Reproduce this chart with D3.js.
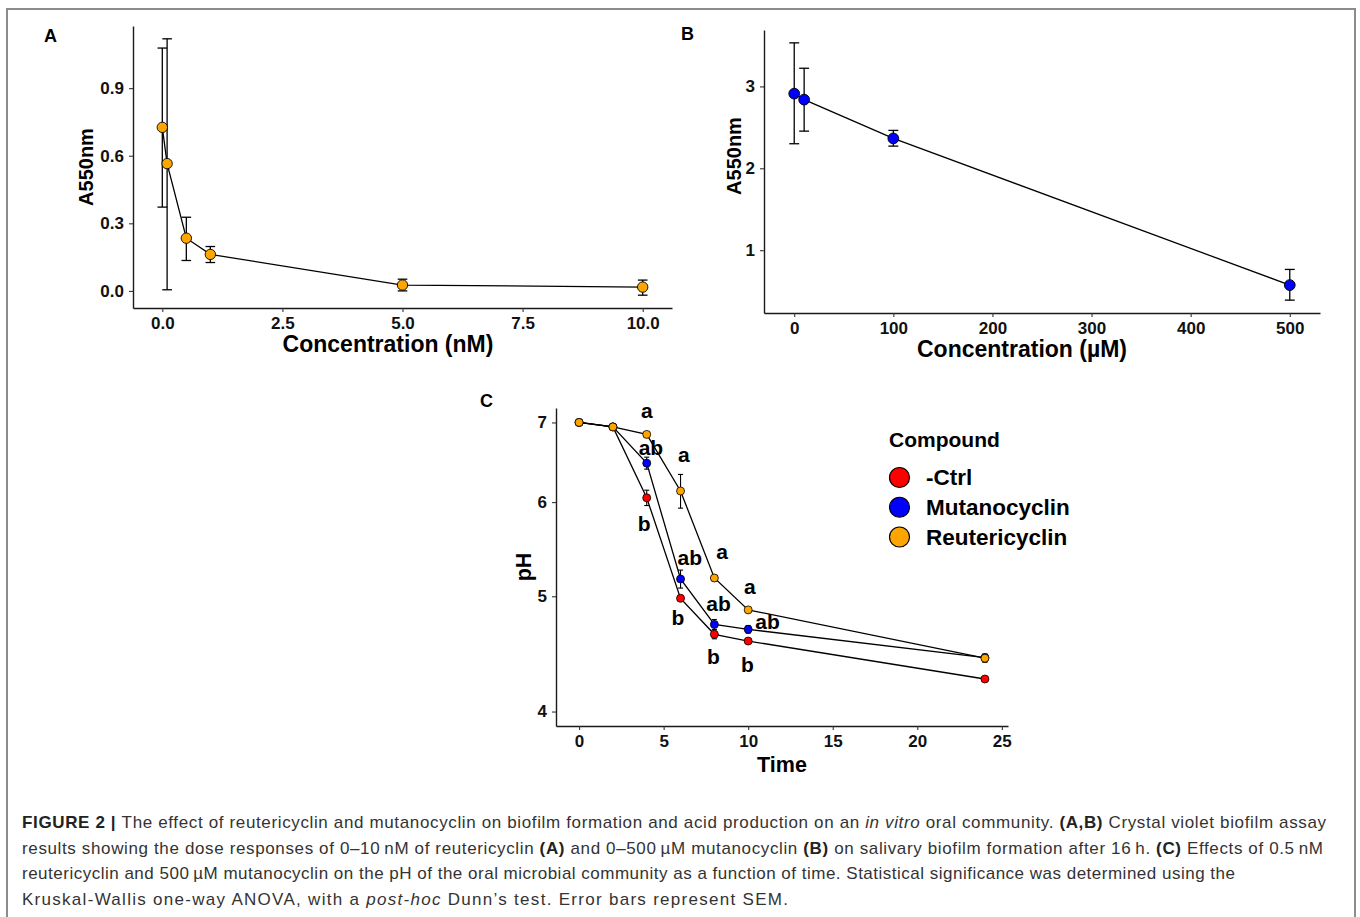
<!DOCTYPE html>
<html>
<head>
<meta charset="utf-8">
<script src="https://cdnjs.cloudflare.com/ajax/libs/d3/7.8.5/d3.min.js"></script>
<style>
body { margin: 0; background: #fff; }
text { font-family: "Liberation Sans", Arial, Helvetica, sans-serif; }
</style>
</head>
<body>
<svg id="fig" width="1360" height="917"></svg>
<script>

// ---- data ----

// panel A: reutericyclin dose response
var concA = [0, 0.1, 0.5, 1, 5, 10];
var meanA = [0.726, 0.565, 0.234, 0.162, 0.026, 0.017];
var lowA  = [0.372, 0.005, 0.135, 0.126, 0.0, -0.019];
var highA = [1.078, 1.119, 0.327, 0.197, 0.052, 0.048];
var xTicksA = [0, 2.5, 5, 7.5, 10];
var yTicksA = [0, 0.3, 0.6, 0.9];

// panel B: mutanocyclin dose response
var concB = [0, 10, 100, 500];
var meanB = [2.912, 2.839, 2.365, 0.574];
var lowB  = [2.300, 2.454, 2.271, 0.390];
var highB = [3.532, 3.222, 2.463, 0.765];
var xTicksB = [0, 100, 200, 300, 400, 500];
var yTicksB = [1, 2, 3];

// panel C: pH over time
var time = [0, 2, 4, 6, 8, 10, 24];
var compounds = ["-Ctrl", "Mutanocyclin", "Reutericyclin"];
var phCtrl = [7.0, 6.94, 6.05, 4.98, 4.645, 4.585, 4.26];
var seCtrl = [0, 0.01, 0.09, 0.03, 0.04, 0.02, 0.02];
var phMuta = [7.0, 6.94, 6.47, 5.17, 4.735, 4.69, 4.44];
var seMuta = [0, 0.01, 0.075, 0.09, 0.045, 0.035, 0.03];
var phReut = [7.0, 6.94, 6.84, 6.13, 5.18, 4.87, 4.435];
var seReut = [0, 0.01, 0.02, 0.2, 0.03, 0.02, 0.035];
var xTicksC = [0, 5, 10, 15, 20, 25];
var yTicksC = [4, 5, 6, 7];

// significance letters (time, pH)
var sigText = ["a", "ab", "b", "a", "ab", "b", "a", "ab", "b", "a", "ab", "b"];
var sigTime = [4, 4.25, 3.85, 6.2, 6.55, 5.85, 8.45, 8.25, 7.95, 10.1, 11.15, 9.95];
var sigPH   = [7.14, 6.67, 5.76, 6.55, 5.39, 4.80, 5.43, 4.93, 4.45, 5.08, 4.76, 4.38];

var colors = {"-Ctrl": "#ff0000", "Mutanocyclin": "#0000ff", "Reutericyclin": "#ffa500"};

// ---- helpers ----

var svg = d3.select("#fig");

// frame around the figure
svg.append("rect")
    .attr("x", 7).attr("y", 9)
    .attr("width", 1348).attr("height", 940)
    .attr("fill", "none")
    .attr("stroke", "#8c8c8c")
    .attr("stroke-width", 2);

// ggplot style 5% expansion
function pad(lo, hi) {
    var d = (hi - lo) * 0.05;
    return [lo - d, hi + d];
}

function drawAxes(x, y, xTicks, yTicks, xFmt, yFmt) {
    var xr = x.range(), yr = y.range();
    var ax = svg.append("g")
        .attr("transform", "translate(0," + yr[0] + ")")
        .call(d3.axisBottom(x).tickValues(xTicks).tickFormat(xFmt)
            .tickSize(4).tickSizeOuter(0).tickPadding(5));
    var ay = svg.append("g")
        .attr("transform", "translate(" + xr[0] + ",0)")
        .call(d3.axisLeft(y).tickValues(yTicks).tickFormat(yFmt)
            .tickSize(4).tickSizeOuter(0).tickPadding(5));
    [ax, ay].forEach(function (a) {
        a.select(".domain").attr("stroke", "#1a1a1a").attr("stroke-width", 1.4);
        a.selectAll(".tick line").attr("stroke", "#333").attr("stroke-width", 1.1);
        a.selectAll(".tick text")
            .attr("fill", "#111")
            .style("font-size", "17px")
            .style("font-weight", "bold")
            .style("font-family", '"Liberation Sans", Arial, sans-serif');
    });
}

function label(x, y, txt, size, rotate) {
    var t = svg.append("text")
        .attr("x", x).attr("y", y)
        .attr("text-anchor", "middle")
        .style("font-size", size + "px")
        .style("font-weight", "bold")
        .attr("fill", "#000")
        .text(txt);
    if (rotate) t.attr("transform", "rotate(-90," + x + "," + y + ")");
    return t;
}

function panelLetter(x, y, txt) {
    svg.append("text").attr("x", x).attr("y", y)
        .style("font-size", "18px").style("font-weight", "bold")
        .text(txt);
}

// error bars + line + points for one dose-response panel
function dosePanel(x, y, conc, mean, low, high, capW, r, fill) {
    var rows = conc.map(function (c, i) {
        return {c: c, m: mean[i], lo: low[i], hi: high[i]};
    });
    var line = d3.line().x(function (d) { return x(d.c); }).y(function (d) { return y(d.m); });

    svg.append("path").datum(rows)
        .attr("d", line)
        .attr("fill", "none")
        .attr("stroke", "#000")
        .attr("stroke-width", 1.3);

    var eb = svg.append("g").attr("stroke", "#000").attr("stroke-width", 1.3);
    eb.selectAll(".v").data(rows).enter().append("line")
        .attr("x1", function (d) { return x(d.c); })
        .attr("x2", function (d) { return x(d.c); })
        .attr("y1", function (d) { return y(d.lo); })
        .attr("y2", function (d) { return y(d.hi); });
    ["lo", "hi"].forEach(function (k) {
        eb.selectAll(".c" + k).data(rows).enter().append("line")
            .attr("x1", function (d) { return x(d.c - capW / 2); })
            .attr("x2", function (d) { return x(d.c + capW / 2); })
            .attr("y1", function (d) { return y(d[k]); })
            .attr("y2", function (d) { return y(d[k]); });
    });

    svg.append("g").selectAll("circle").data(rows).enter().append("circle")
        .attr("cx", function (d) { return x(d.c); })
        .attr("cy", function (d) { return y(d.m); })
        .attr("r", r)
        .attr("fill", fill)
        .attr("stroke", "#000")
        .attr("stroke-width", 0.9);
}

// ---- panel A ----
var capA = 0.2;
var xA = d3.scaleLinear()
    .domain(pad(d3.min(concA) - capA / 2, d3.max(concA) + capA / 2))
    .range([133, 672]);
var yA = d3.scaleLinear()
    .domain(pad(d3.min(lowA), d3.max(highA)))
    .range([308, 26]);
drawAxes(xA, yA, xTicksA, yTicksA, d3.format(".1f"), d3.format(".1f"));
dosePanel(xA, yA, concA, meanA, lowA, highA, capA, 5.2, "#ffa500");
label(388, 352, "Concentration (nM)", 23);
label(93, 167, "A550nm", 20, true);
panelLetter(44, 42, "A");

// ---- panel B ----
var capB = 10;
var xB = d3.scaleLinear()
    .domain(pad(d3.min(concB) - capB / 2, d3.max(concB) + capB / 2))
    .range([764, 1320]);
var yB = d3.scaleLinear()
    .domain(pad(d3.min(lowB), d3.max(highB)))
    .range([313, 30]);
drawAxes(xB, yB, xTicksB, yTicksB, d3.format("d"), d3.format("d"));
dosePanel(xB, yB, concB, meanB, lowB, highB, capB, 5.4, "#0000ff");
label(1022, 357, "Concentration (\u00b5M)", 23);
label(741, 156, "A550nm", 20, true);
panelLetter(681, 40, "B");

// ---- panel C ----
var capC = 0.3;
var xC = d3.scaleLinear()
    .domain(pad(d3.min(time) - capC / 2, d3.max(time) + capC / 2))
    .range([556, 1008]);
var logLim = pad(Math.log10(4), Math.log10(7));
var yC = d3.scaleLog()
    .domain([Math.pow(10, logLim[0]), Math.pow(10, logLim[1])])
    .range([726, 408]);
drawAxes(xC, yC, xTicksC, yTicksC, d3.format("d"), d3.format("d"));

var seriesC = [
    {name: "-Ctrl", ph: phCtrl, se: seCtrl},
    {name: "Mutanocyclin", ph: phMuta, se: seMuta},
    {name: "Reutericyclin", ph: phReut, se: seReut}
];
seriesC.forEach(function (s) {
    s.rows = time.map(function (t, i) { return {t: t, m: s.ph[i], se: s.se[i]}; });
});

var lineC = d3.line().x(function (d) { return xC(d.t); }).y(function (d) { return yC(d.m); });
svg.append("g").selectAll("path").data(seriesC).enter().append("path")
    .attr("d", function (s) { return lineC(s.rows); })
    .attr("fill", "none")
    .attr("stroke", "#000")
    .attr("stroke-width", 1.3);

seriesC.forEach(function (s) {
    var eb = svg.append("g").attr("stroke", "#000").attr("stroke-width", 1.1);
    var rows = s.rows.filter(function (d) { return d.se > 0; });
    eb.selectAll(".v").data(rows).enter().append("line")
        .attr("x1", function (d) { return xC(d.t); })
        .attr("x2", function (d) { return xC(d.t); })
        .attr("y1", function (d) { return yC(d.m - d.se); })
        .attr("y2", function (d) { return yC(d.m + d.se); });
    [-1, 1].forEach(function (k) {
        eb.selectAll(".c").data(rows).enter().append("line")
            .attr("x1", function (d) { return xC(d.t - capC / 2); })
            .attr("x2", function (d) { return xC(d.t + capC / 2); })
            .attr("y1", function (d) { return yC(d.m + k * d.se); })
            .attr("y2", function (d) { return yC(d.m + k * d.se); });
    });
});

seriesC.forEach(function (s) {
    svg.append("g").selectAll("circle").data(s.rows).enter().append("circle")
        .attr("cx", function (d) { return xC(d.t); })
        .attr("cy", function (d) { return yC(d.m); })
        .attr("r", 4)
        .attr("fill", colors[s.name])
        .attr("stroke", "#000")
        .attr("stroke-width", 0.8);
});

// significance letters
svg.append("g").selectAll("text").data(sigText).enter().append("text")
    .attr("x", function (d, i) { return xC(sigTime[i]); })
    .attr("y", function (d, i) { return yC(sigPH[i]); })
    .attr("dy", function (d) { return d === "a" ? "0.26em" : "0.36em"; })
    .attr("text-anchor", "middle")
    .style("font-size", "21px")
    .style("font-weight", "bold")
    .text(function (d) { return d; });

label(782, 772, "Time", 21.5);
label(531, 567, "pH", 21.5, true);
panelLetter(480, 407, "C");

// legend
var leg = svg.append("g");
leg.append("text").attr("x", 889).attr("y", 447)
    .style("font-size", "21px").style("font-weight", "bold")
    .text("Compound");
var legY = d3.scalePoint().domain(compounds).range([477.5, 537]);
compounds.forEach(function (c) {
    leg.append("circle")
        .attr("cx", 899.5).attr("cy", legY(c)).attr("r", 10)
        .attr("fill", colors[c]).attr("stroke", "#000").attr("stroke-width", 1.2);
    leg.append("text")
        .attr("x", 926).attr("y", legY(c) + 7.5)
        .style("font-size", "22.5px").style("font-weight", "bold")
        .text(c);
});

// ---- caption ----
var caption = [
    [["FIGURE 2 | ", "b"], ["The effect of reutericyclin and mutanocyclin on biofilm formation and acid production on an ", ""], ["in vitro", "i"], [" oral community. ", ""], ["(A,B)", "b"], [" Crystal violet biofilm assay", ""]],
    [["results showing the dose responses of 0\u201310\u2009nM of reutericyclin ", ""], ["(A)", "b"], [" and 0\u2013500\u2009\u00b5M mutanocyclin ", ""], ["(B)", "b"], [" on salivary biofilm formation after 16\u2009h. ", ""], ["(C)", "b"], [" Effects of 0.5\u2009nM", ""]],
    [["reutericyclin and 500\u2009\u00b5M mutanocyclin on the pH of the oral microbial community as a function of time. Statistical significance was determined using the", ""]],
    [["Kruskal-Wallis one-way ANOVA, with a ", ""], ["post-hoc", "i"], [" Dunn\u2019s test. Error bars represent SEM.", ""]]
];
// right end of each caption line in the figure
var captionEnd = [1326, 1323, 1235, 788];
var cap = svg.append("g");
caption.forEach(function (segs, li) {
    var t = cap.append("text")
        .attr("x", 22)
        .attr("y", 828 + li * 25.5)
        .attr("textLength", captionEnd[li] - 22)
        .attr("lengthAdjust", "spacing")
        .style("font-size", "17px")
        .attr("fill", "#333");
    segs.forEach(function (s) {
        t.append("tspan")
            .style("font-weight", s[1] === "b" ? "bold" : "normal")
            .style("font-style", s[1] === "i" ? "italic" : "normal")
            .attr("fill", s[1] === "b" ? "#222" : "#333")
            .text(s[0]);
    });
});

</script>
</body>
</html>
